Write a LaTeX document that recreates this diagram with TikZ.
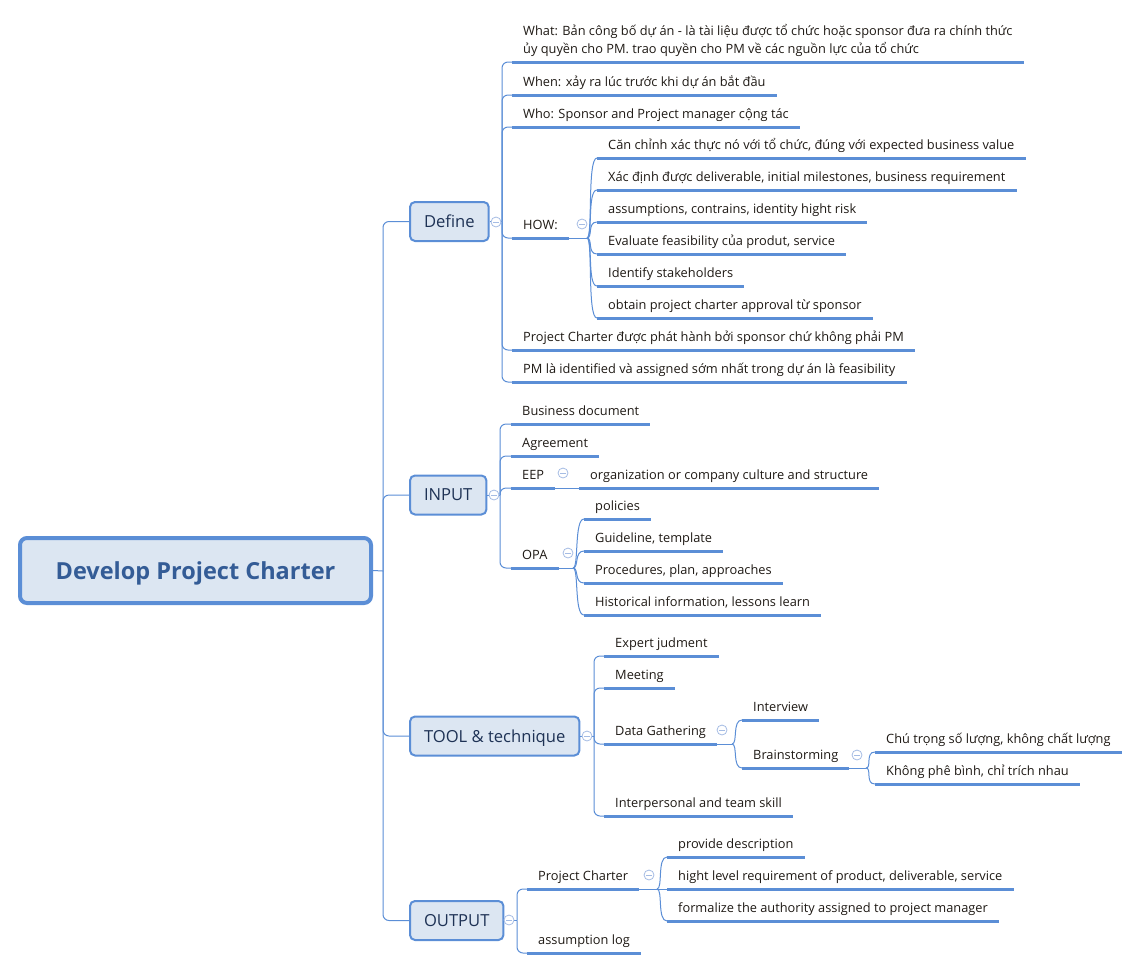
\documentclass[tikz,border=0pt]{standalone}
\usepackage{fontspec}
\setmainfont{Open Sans}
\definecolor{linec}{RGB}{91,142,214}
\definecolor{boxc}{RGB}{220,230,242}
\definecolor{foldc}{RGB}{165,188,228}
\definecolor{rootc}{RGB}{52,92,150}
\definecolor{branchc}{RGB}{30,50,85}
\definecolor{leafc}{RGB}{30,25,20}
\tikzset{
  rootbox/.style={draw=linec,line width=4pt,fill=boxc,rounded corners=7pt,minimum width=351pt,minimum height=65pt,text depth=0pt,text=rootc,font=\fontsize{23.5}{28}\selectfont\bfseries},
  branch/.style={draw=linec,line width=2pt,fill=boxc,rounded corners=5pt,anchor=west,minimum height=39pt,inner xsep=14pt,text depth=0pt,text=branchc,font=\fontsize{16.6}{20}\selectfont},
  leafbase/.style={anchor=south west,inner xsep=11pt,inner ysep=5.5pt,text=leafc,font=\fontsize{12.8}{15}\selectfont},
  leaf/.style={leafbase,text depth=3pt},
  conn/.style={draw=linec,line width=1pt,rounded corners=6pt},
  uline/.style={draw=linec,line width=3pt},
  fold/.style={circle,draw=foldc,fill=white,line width=0.8pt,minimum size=10pt,inner sep=0pt,
    path picture={\draw[foldc,line width=0.8pt] ([xshift=-3pt]path picture bounding box.center)--([xshift=3pt]path picture bounding box.center);}}
}
\begin{document}
\begin{tikzpicture}[x=1pt,y=-1pt]
\useasboundingbox (0,0) rectangle (1141,970);
% root and main branches
\node[rootbox] (root) at (195.5,570.5) {Develop Project Charter};
\node[branch] (define) at (409,221.5) {Define};
\node[branch] (input) at (409,495) {INPUT};
\node[branch] (tool) at (409,736) {TOOL \& technique};
\node[branch] (output) at (409,920.5) {OUTPUT};
\coordinate (rootj) at (383,571);
\draw[conn] (root.east) -- (rootj);
\foreach \b in {define,input,tool,output}
  \draw[conn] (rootj) |- (\b.west);

% Define
\node[leafbase,align=left,font=\fontsize{12.8}{18}\selectfont] (what) at (512,62) {What: Bản công bố dự án - là tài liệu được tổ chức hoặc sponsor đưa ra chính thức\\ủy quyền cho PM. trao quyền cho PM về các nguồn lực của tổ chức};
\node[leaf] (when) at (512,95) {When: xảy ra lúc trước khi dự án bắt đầu};
\node[leaf] (who) at (512,127) {Who: Sponsor and Project manager cộng tác};
\node[leaf] (how) at (512,238) {HOW:};
\node[leaf] (pcpub) at (512,350) {Project Charter được phát hành bởi sponsor chứ không phải PM};
\node[leaf] (pmid) at (512,382) {PM là identified và assigned sớm nhất trong dự án là feasibility};
\node[leaf] (align) at (597,158) {Căn chỉnh xác thực nó với tổ chức, đúng với expected business value};
\node[leaf] (deliv) at (597,190) {Xác định được deliverable, initial milestones, business requirement};
\node[leaf] (assum) at (597,222) {assumptions, contrains, identity hight risk};
\node[leaf] (feas) at (597,254) {Evaluate feasibility của produt, service};
\node[leaf] (stake) at (597,286) {Identify stakeholders};
\node[leaf] (approv) at (597,318) {obtain project charter approval từ sponsor};
\coordinate (defj) at (502,221.5);
\coordinate (howj) at (587,238);
\draw[conn] (define.east) -- (defj);
\foreach \c in {what,when,who,how,pcpub,pmid}
  \draw[conn] (defj) |- (\c.south west);
\draw[conn] (how.south east) -- (howj);
\foreach \c in {align,deliv,assum,feas,stake,approv}
  \draw[conn] (howj) .. controls +(6,0) and +(-10,0) .. (\c.south west);

% INPUT
\node[leaf] (busdoc) at (511,424) {Business document};
\node[leaf] (agree) at (511,456) {Agreement};
\node[leaf] (eep) at (511,488) {EEP};
\node[leaf] (culture) at (579,488) {organization or company culture and structure};
\node[leaf] (opa) at (511,568) {OPA};
\node[leaf] (polic) at (584,519) {policies};
\node[leaf] (guide) at (584,551) {Guideline, template};
\node[leaf] (proced) at (584,583) {Procedures, plan, approaches};
\node[leaf] (histo) at (584,615) {Historical information, lessons learn};
\coordinate (inj) at (500,495);
\coordinate (opaj) at (573,568);
\draw[conn] (input.east) -- (inj);
\foreach \c in {busdoc,agree,eep,opa}
  \draw[conn] (inj) |- (\c.south west);
\draw[conn] (eep.south east) -- (culture.south west);
\draw[conn] (opa.south east) -- (opaj);
\foreach \c in {polic,guide,proced,histo}
  \draw[conn] (opaj) .. controls +(6,0) and +(-10,0) .. (\c.south west);

% TOOL & technique
\node[leaf] (expert) at (604,656) {Expert judment};
\node[leaf] (meet) at (604,688) {Meeting};
\node[leaf] (datag) at (604,744) {Data Gathering};
\node[leaf] (skill) at (604,816) {Interpersonal and team skill};
\node[leaf] (intv) at (742,720) {Interview};
\node[leaf] (brain) at (742,768) {Brainstorming};
\node[leaf] (qty) at (875,752) {Chú trọng số lượng, không chất lượng};
\node[leaf] (nocrit) at (875,784) {Không phê bình, chỉ trích nhau};
\coordinate (toolj) at (594,736);
\coordinate (dataj) at (732,744);
\coordinate (brainj) at (866,768);
\draw[conn] (tool.east) -- (toolj);
\foreach \c in {expert,meet,datag,skill}
  \draw[conn] (toolj) |- (\c.south west);
\draw[conn] (datag.south east) -- (dataj);
\foreach \c in {intv,brain}
  \draw[conn] (dataj) .. controls +(6,0) and +(-10,0) .. (\c.south west);
\draw[conn] (brain.south east) -- (brainj);
\foreach \c in {qty,nocrit}
  \draw[conn] (brainj) .. controls +(6,0) and +(-10,0) .. (\c.south west);

% OUTPUT
\node[leaf] (pchar) at (527,889) {Project Charter};
\node[leaf] (alog) at (527,953) {assumption log};
\node[leaf] (descr) at (667,857) {provide description};
\node[leaf] (hlreq) at (667,889) {hight level requirement of product, deliverable, service};
\node[leaf] (auth) at (667,921) {formalize the authority assigned to project manager};
\coordinate (outj) at (517,920.5);
\coordinate (pcj) at (657,889);
\draw[conn] (output.east) -- (outj);
\foreach \c in {pchar,alog}
  \draw[conn] (outj) |- (\c.south west);
\draw[conn] (pchar.south east) -- (pcj);
\foreach \c in {descr,hlreq,auth}
  \draw[conn] (pcj) .. controls +(6,0) and +(-10,0) .. (\c.south west);

% underlines
\foreach \n in {what,when,who,how,pcpub,pmid,align,deliv,assum,feas,stake,approv,
  busdoc,agree,eep,culture,opa,polic,guide,proced,histo,
  expert,meet,datag,skill,intv,brain,qty,nocrit,
  pchar,alog,descr,hlreq,auth}
  \draw[uline] (\n.south west) -- (\n.south east);

% collapse marks
\node[fold] (fdefine) at (496,222) {};
\node[fold] (finput) at (494,495) {};
\node[fold] (ftool) at (587,736) {};
\node[fold] (foutput) at (509,920) {};
\node[fold] (fhow) at (582,224) {};
\node[fold] (feep) at (563,473) {};
\node[fold] (fopa) at (568,553) {};
\node[fold] (fdatag) at (722,730) {};
\node[fold] (fbrain) at (857,755) {};
\node[fold] (fpchar) at (649,875) {};
\end{tikzpicture}
\end{document}
